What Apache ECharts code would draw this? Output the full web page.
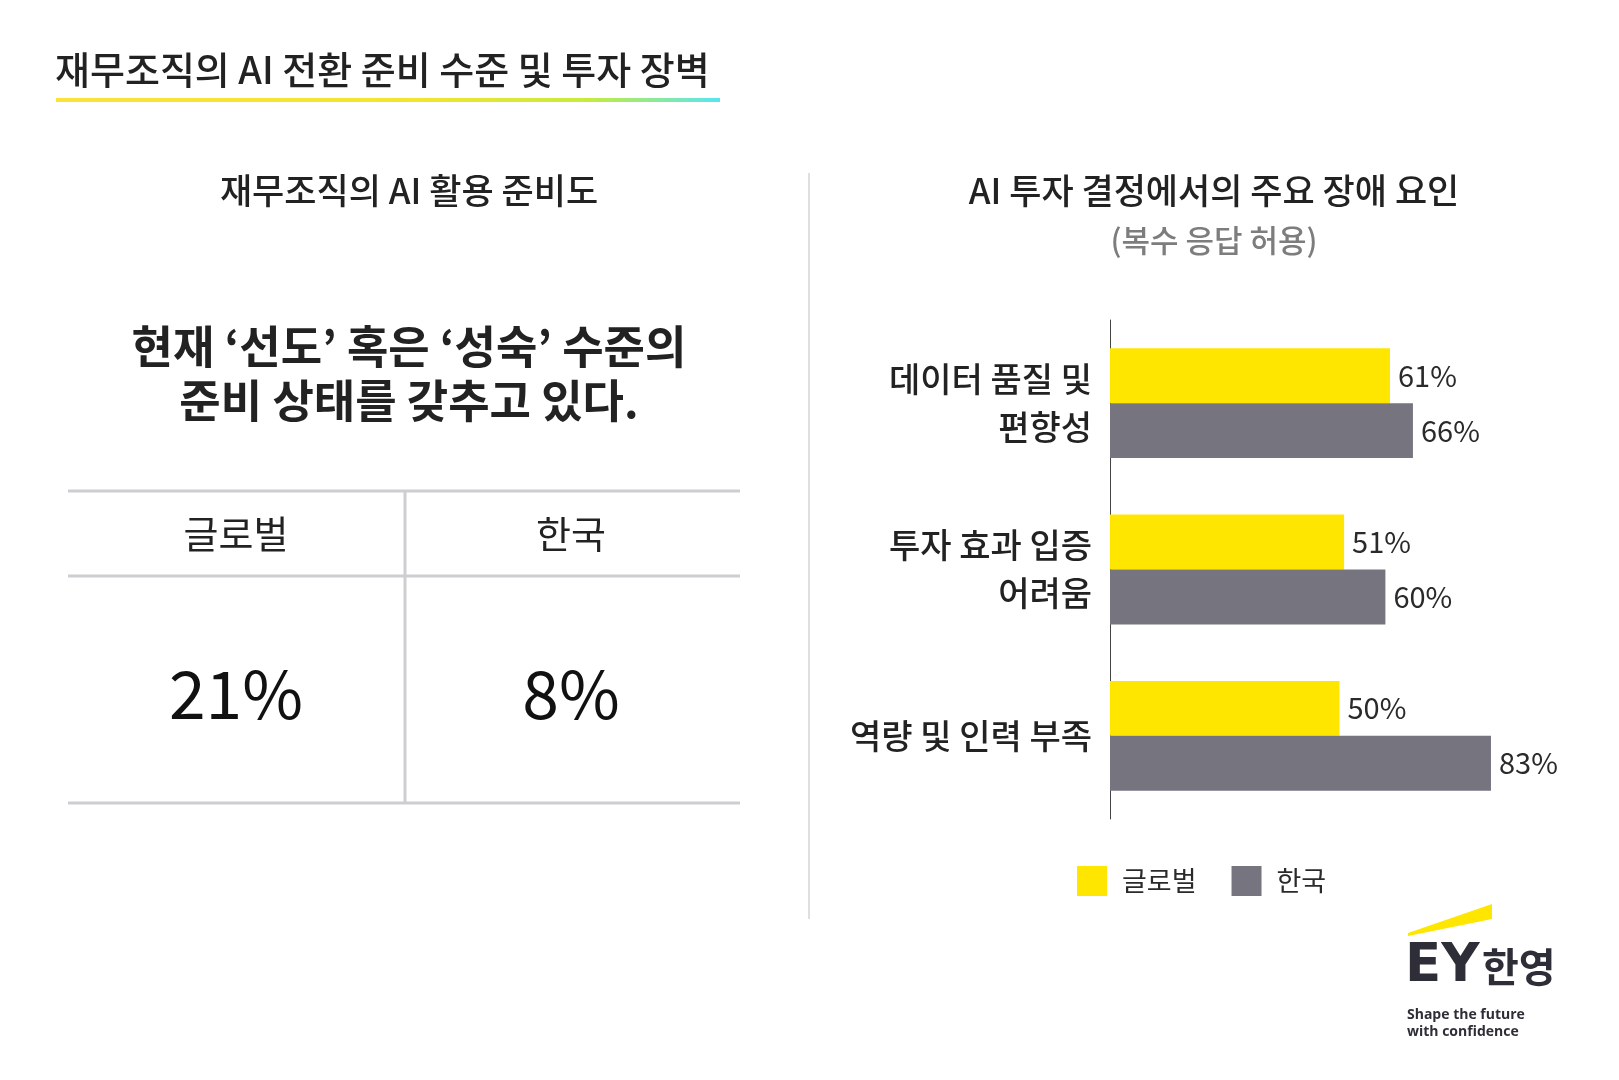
<!DOCTYPE html>
<html><head><meta charset="utf-8">
<script src="https://cdn.jsdelivr.net/npm/echarts@6/dist/echarts.min.js"></script>
<style>html,body{margin:0;padding:0;background:#fff}#c{width:1619px;height:1080px}</style>
</head><body><div id="c"></div>
<script>
const FONT = '"Noto Sans CJK KR", "Noto Sans", sans-serif';
// Data
const barCategories = ['데이터 품질 및\n편향성', '투자 효과 입증\n어려움', '역량 및 인력 부족'];
const seriesNames = ['글로벌', '한국'];
const globalValues = [61, 51, 50];
const koreaValues = [66, 60, 83];
const readinessLabels = ['글로벌', '한국'];
const readinessValues = [21, 8];

const YELLOW = '#ffe600', GRAY = '#75747f', DARK = '#222222';

function txt(x, y, text, size, opts) {
  opts = opts || {};
  const align = opts.align || 'center';
  return {
    type: 'text', x: x, y: y, silent: true,
    style: {
      text: text, fill: opts.color || DARK,
      font: (opts.weight || 'normal') + ' ' + size + 'px ' + (opts.family || FONT),
      align: align, verticalAlign: 'middle', textAlign: align, textVerticalAlign: 'middle',
      lineHeight: opts.lineHeight || size * 1.3
    }
  };
}
function line(x1, y1, x2, y2, color, w) {
  return { type: 'line', silent: true, shape: { x1, y1, x2, y2 }, style: { stroke: color, lineWidth: w } };
}

const graphics = [
  txt(55, 70, '재무조직의 AI 전환 준비 수준 및 투자 장벽', 38, { align: 'left', weight: 500 }),
  { type: 'rect', silent: true, shape: { x: 56, y: 98, width: 664, height: 4 },
    style: { fill: new echarts.graphic.LinearGradient(0, 0, 1, 0, [
      { offset: 0, color: '#fbe23a' }, { offset: 0.55, color: '#f2e52e' },
      { offset: 0.8, color: '#c6ec3a' }, { offset: 1, color: '#55e6f3' }]) } },
  txt(409, 191, '재무조직의 AI 활용 준비도', 35, { weight: 500 }),
  txt(1214, 191, 'AI 투자 결정에서의 주요 장애 요인', 35, { weight: 500 }),
  txt(1214, 240, '(복수 응답 허용)', 31, { color: '#7d7d7d', weight: 500 }),
  line(809, 173, 809, 919, '#d4d4d4', 1.5),
  txt(409, 347, '현재 ‘선도’ 혹은 ‘성숙’ 수준의', 45, { weight: 'bold' }),
  txt(409, 401, '준비 상태를 갖추고 있다.', 45, { weight: 'bold' }),
  line(68, 491, 740, 491, '#cdcdd2', 3),
  line(68, 576, 740, 576, '#cdcdd2', 3),
  line(68, 803, 740, 803, '#cdcdd2', 3),
  line(405, 491, 405, 803, '#cdcdd2', 3),
  txt(236, 534, readinessLabels[0], 38),
  txt(571, 534, readinessLabels[1], 38),
  txt(236, 694, readinessValues[0] + '%', 66, { color: '#111' }),
  txt(571, 694, readinessValues[1] + '%', 66, { color: '#111' }),
  // logo
  { type: 'polygon', silent: true, shape: { points: [[1408, 933], [1492, 904], [1492, 919], [1408, 936]] }, style: { fill: YELLOW } },
  txt(1405, 967, 'EY', 53, { align: 'left', weight: 'bold', color: '#2e2e38', family: '"DejaVu Sans", sans-serif' }),
  txt(1482, 967, '한영', 40, { align: 'left', weight: 'bold', color: '#2e2e38' }),
  txt(1407, 1015, 'Shape the future', 14, { align: 'left', weight: 'bold', color: '#2e2e38', family: '"Open Sans", sans-serif' }),
  txt(1407, 1032, 'with confidence', 14, { align: 'left', weight: 'bold', color: '#2e2e38', family: '"Open Sans", sans-serif' })
];

const chart = echarts.init(document.getElementById('c'), null, { renderer: 'canvas' });
const labelStyle = { show: true, position: 'right', distance: 8, formatter: '{c}%', fontSize: 29, color: '#2a2a2a', fontFamily: FONT };
chart.setOption({
  animation: false,
  backgroundColor: '#fff',
  textStyle: { fontFamily: FONT },
  grid: { left: 1110, top: 320, width: 459, height: 499, containLabel: false },
  legend: {
    data: seriesNames, left: 1072, top: 861, itemWidth: 30, itemHeight: 30, itemGap: 35, icon: 'rect',
    textStyle: { fontSize: 27, color: '#2a2a2a', fontFamily: FONT, padding: [0, 0, 0, 10] }
  },
  xAxis: { type: 'value', min: 0, max: 100, show: false },
  yAxis: {
    type: 'category', data: barCategories, inverse: true,
    axisLine: { show: true, lineStyle: { color: '#444', width: 1 } },
    axisTick: { show: false },
    axisLabel: { fontSize: 34, fontWeight: 500, color: DARK, lineHeight: 48, margin: 18, fontFamily: FONT, align: 'right' }
  },
  series: [
    { name: seriesNames[0], type: 'bar', data: globalValues, itemStyle: { color: YELLOW }, barGap: '0%', barCategoryGap: '34%', label: labelStyle },
    { name: seriesNames[1], type: 'bar', data: koreaValues, itemStyle: { color: GRAY }, barGap: '0%', barCategoryGap: '34%', label: labelStyle }
  ],
  graphic: { elements: graphics }
});
</script></body></html>
